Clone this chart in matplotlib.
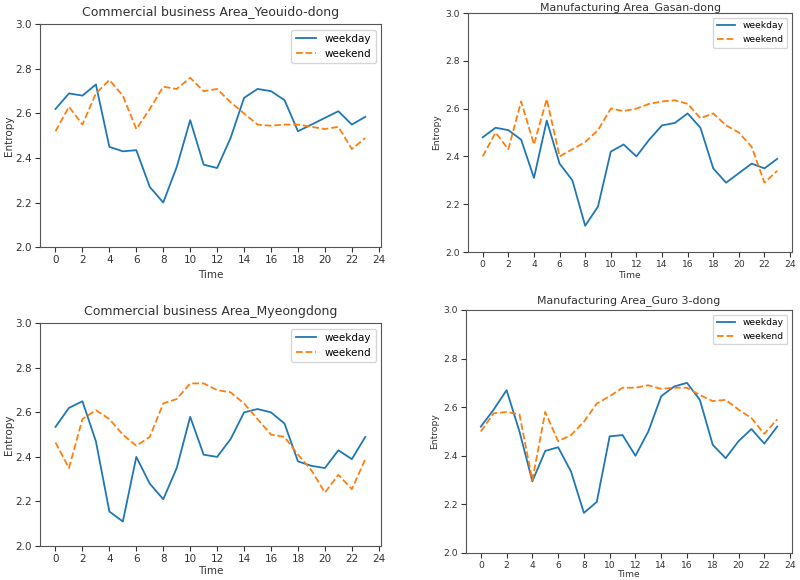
import matplotlib.pyplot as plt

hours = list(range(24))

yeouido_weekday = [2.62, 2.69, 2.68, 2.73, 2.45, 2.43, 2.435, 2.27, 2.20, 2.36, 2.57, 2.37,
                   2.355, 2.49, 2.67, 2.71, 2.70, 2.66, 2.52, 2.55, 2.58, 2.61, 2.55, 2.585]
yeouido_weekend = [2.52, 2.63, 2.55, 2.69, 2.75, 2.68, 2.53, 2.62, 2.72, 2.71, 2.76, 2.70,
                   2.71, 2.65, 2.60, 2.55, 2.545, 2.55, 2.55, 2.54, 2.53, 2.54, 2.44, 2.49]

gasan_weekday = [2.48, 2.52, 2.51, 2.47, 2.31, 2.55, 2.37, 2.30, 2.11, 2.19, 2.42, 2.45,
                 2.40, 2.47, 2.53, 2.54, 2.58, 2.52, 2.35, 2.29, 2.33, 2.37, 2.35, 2.39]
gasan_weekend = [2.40, 2.50, 2.43, 2.63, 2.45, 2.64, 2.40, 2.43, 2.46, 2.51, 2.60, 2.59,
                 2.60, 2.62, 2.63, 2.635, 2.62, 2.56, 2.58, 2.53, 2.50, 2.44, 2.29, 2.34]

myeong_weekday = [2.535, 2.62, 2.65, 2.47, 2.155, 2.11, 2.40, 2.28, 2.21, 2.35, 2.58, 2.41,
                  2.40, 2.48, 2.60, 2.615, 2.60, 2.55, 2.38, 2.36, 2.35, 2.43, 2.39, 2.49]
myeong_weekend = [2.465, 2.35, 2.57, 2.61, 2.57, 2.50, 2.45, 2.49, 2.64, 2.66, 2.73, 2.73,
                  2.70, 2.69, 2.64, 2.57, 2.50, 2.49, 2.41, 2.34, 2.24, 2.32, 2.255, 2.39]

guro_weekday = [2.52, 2.59, 2.67, 2.50, 2.295, 2.42, 2.435, 2.335, 2.165, 2.21, 2.48, 2.485,
                2.40, 2.50, 2.645, 2.685, 2.70, 2.63, 2.445, 2.39, 2.46, 2.51, 2.45, 2.52]
guro_weekend = [2.50, 2.575, 2.58, 2.57, 2.30, 2.58, 2.46, 2.485, 2.54, 2.615, 2.645, 2.68,
                2.68, 2.69, 2.675, 2.68, 2.68, 2.65, 2.625, 2.63, 2.59, 2.555, 2.49, 2.55]

fig = plt.figure(figsize=(8, 5.8), dpi=100)

panels = [
    # title, weekday, weekend, axes rect, font scale, title pad, xlabel pad, ylabel pad
    ("Commercial business Area_Yeouido-dong", yeouido_weekday, yeouido_weekend,
     [0.05, 0.574, 0.426, 0.384], 1.0, 6, 3, 1),
    ("Manufacturing Area_Gasan-dong", gasan_weekday, gasan_weekend,
     [0.585, 0.5655, 0.405, 0.412], 0.88, 2, 1, 3),
    ("Commercial business Area_Myeongdong", myeong_weekday, myeong_weekend,
     [0.05, 0.0586, 0.426, 0.384], 1.0, 6, 1, 1),
    ("Manufacturing Area_Guro 3-dong", guro_weekday, guro_weekend,
     [0.5825, 0.0466, 0.4075, 0.419], 0.88, 5, 0, 3),
]

for title, wd, we, rect, s, tpad, xpad, ypad in panels:
    ax = fig.add_axes(rect)
    ax.plot(hours, wd, color="tab:blue", linewidth=1.3, label="weekday")
    ax.plot(hours, we, color="tab:orange", linewidth=1.3, linestyle="--", label="weekend")
    ax.set_ylim(2.0, 3.0)
    ax.set_yticks([2.0, 2.2, 2.4, 2.6, 2.8, 3.0])
    ax.set_xticks(range(0, 25, 2))
    ax.tick_params(labelsize=7.5 * s, colors="#333333", labelcolor="#333333", pad=2.5)
    ax.set_title(title, fontsize=9 * s, color="#333333", pad=tpad)
    ax.set_xlabel("Time", fontsize=7.5 * s, color="#333333", labelpad=xpad)
    ax.set_ylabel("Entropy", fontsize=7.5 * s, color="#333333", labelpad=ypad)
    for sp in ax.spines.values():
        sp.set_color("#555555")
    ax.legend(loc="upper right", fontsize=7.5 * s)

plt.savefig("out.png")
plt.close()
